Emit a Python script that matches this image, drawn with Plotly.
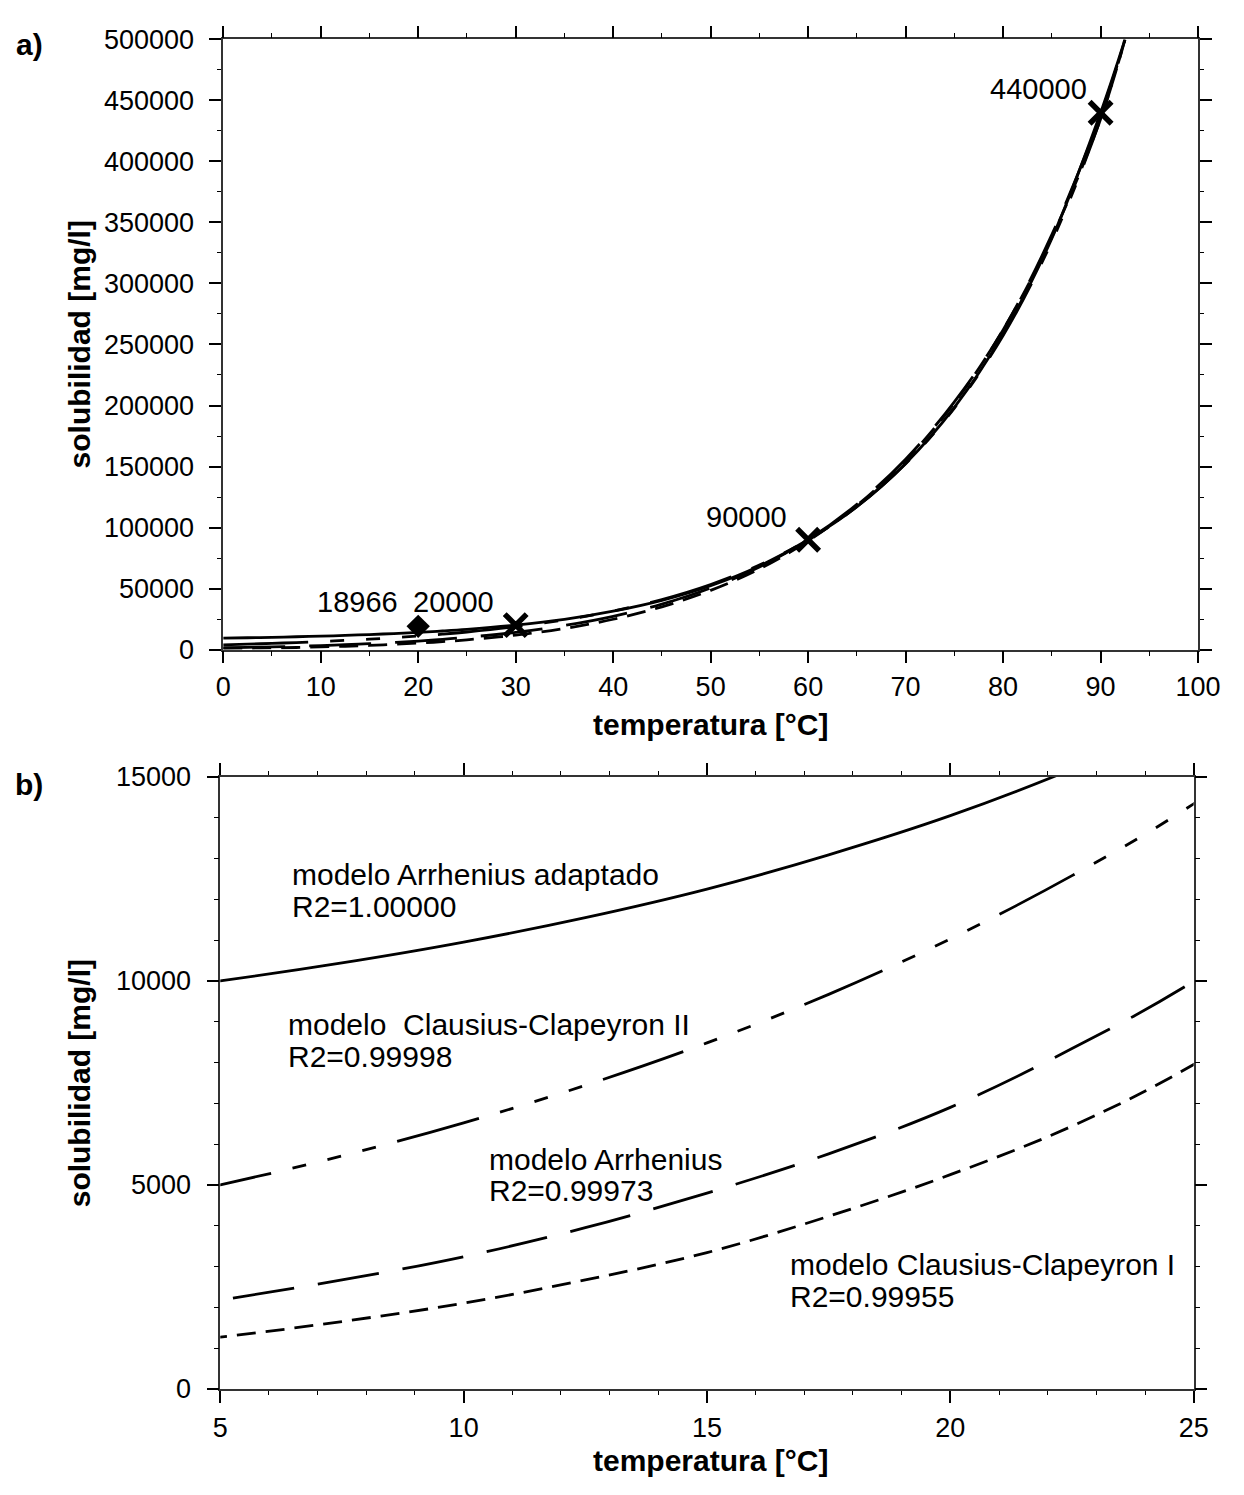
import plotly.graph_objects as go

# ---- data -------------------------------------------------------------
temperatura = [0, 2.5, 5, 7.5, 10, 12.5, 15, 17.5, 20, 22.5, 25, 30, 35, 40,
               45, 50, 55, 60, 65, 70, 75, 80, 85, 90, 92.5]

arrhenius_adaptado = [9310, 9630, 10000, 10440, 10950, 11550, 12250, 13090,
                      14050, 15190, 16520, 20000, 24700, 31400, 40300, 52300,
                      68500, 90000, 117000, 152500, 198500, 258500, 337000,
                      440000, 500000]
clausius_clapeyron_2 = [3850, 4390, 5000, 5710, 6520, 7440, 8480, 9670, 11030,
                        12580, 14340, 18660, 24260, 31530, 40990, 53290, 69280,
                        90060, 117100, 152200, 197900, 257300, 334500, 434800,
                        500000]
arrhenius = [1450, 1780, 2180, 2670, 3240, 3950, 4800, 5760, 6900, 8340, 9990,
             14100, 19700, 27200, 37200, 50400, 67600, 90000, 119000, 156000,
             203000, 262000, 340000, 438000, 500000]
clausius_clapeyron_1 = [750, 980, 1270, 1650, 2100, 2670, 3340, 4230, 5250,
                        6440, 7950, 11800, 17200, 24800, 35000, 48500, 66000,
                        89000, 118000, 155000, 202000, 262000, 338000, 435000,
                        500000]

medidos_t = [30, 60, 90]
medidos_s = [20000, 90000, 440000]
referencia_t = [20]
referencia_s = [18966]

modelos = [
    ("modelo Arrhenius adaptado", arrhenius_adaptado, "solid", "R2=1.00000"),
    ("modelo  Clausius-Clapeyron II", clausius_clapeyron_2,
     "85px,22px,14px,22px,14px,22px,14px,22px", "R2=0.99998"),
    ("modelo Arrhenius", arrhenius, "62px,24px", "R2=0.99973"),
    ("modelo Clausius-Clapeyron I", clausius_clapeyron_1, "19px,10px", "R2=0.99955"),
]

# ---- figure geometry (pixels of the page) ------------------------------
W, H = 1244, 1495
FONT = "Arial, 'Liberation Sans', sans-serif"


def fx(p):
    return p / W


def fy(p):
    return 1 - p / H


fig = go.Figure()

for nombre, valores, dash, _ in modelos:
    for xa, ya in (("x", "y"), ("x2", "y2")):
        fig.add_trace(go.Scatter(
            x=temperatura, y=valores, mode="lines", name=nombre,
            line=dict(color="black", width=2.8, dash=dash, shape="spline"),
            xaxis=xa, yaxis=ya, showlegend=False, hoverinfo="skip"))

fig.add_trace(go.Scatter(
    x=medidos_t, y=medidos_s, mode="markers", xaxis="x", yaxis="y",
    marker=dict(symbol="x-thin", size=22, color="black",
                line=dict(color="black", width=5.5)),
    showlegend=False))
fig.add_trace(go.Scatter(
    x=referencia_t, y=referencia_s, mode="markers", xaxis="x", yaxis="y",
    marker=dict(symbol="diamond", size=18, color="black"),
    showlegend=False))

axis_common = dict(
    showline=True, linecolor="#333", linewidth=1.5, mirror="ticks",
    ticks="outside", ticklen=12, tickwidth=1.5, tickcolor="black",
    showgrid=False, zeroline=False,
    tickfont=dict(family=FONT, size=27, color="black"),
)
minor_common = dict(ticks="outside", ticklen=4.5, tickwidth=1.2, tickcolor="black")

fig.update_layout(
    width=W, height=H, margin=dict(l=0, r=0, t=0, b=0),
    paper_bgcolor="white", plot_bgcolor="white", showlegend=False,
    xaxis=dict(axis_common, domain=[fx(220.7), fx(1220.5)], anchor="y",
               range=[0, 100], tick0=0, dtick=10,
               minor=dict(minor_common, dtick=5)),
    yaxis=dict(axis_common, domain=[fy(647.5), fy(25)], anchor="x",
               range=[0, 500000], tick0=0, dtick=50000, tickformat="d",
               ticklabelstandoff=10,
               minor=dict(minor_common, dtick=25000)),
    xaxis2=dict(axis_common, domain=[fx(217.7), fx(1216)], anchor="y2",
                range=[5, 25], tick0=5, dtick=5, ticklabelstandoff=2,
                minor=dict(minor_common, dtick=1)),
    yaxis2=dict(axis_common, domain=[fy(1402), fy(777.5)], anchor="x2",
                range=[0, 15000], tick0=0, dtick=5000, tickformat="d",
                ticklabelstandoff=10,
                minor=dict(minor_common, dtick=1000)),
)

anns = []

# values written next to the measured points
etiquetas = [(referencia_t[0], referencia_s[0], -6.2, 20000),
             (medidos_t[0], medidos_s[0], -6.4, 19000),
             (medidos_t[1], medidos_s[1], -6.3, 19000),
             (medidos_t[2], medidos_s[2], -6.4, 19800)]
for t, s, dx, dy in etiquetas:
    anns.append(dict(x=t + dx, y=s + dy, xref="x", yref="y", text=str(s),
                     showarrow=False, xanchor="center", yanchor="middle",
                     font=dict(family=FONT, size=29, color="black")))

# model names and fit quality in panel b
textos_b = [(289, 877, 910), (285, 1030, 1063), (491, 1168, 1200), (800, 1275, 1308)]
for (nombre, _, _, r2), (x0, y1, y2) in zip(modelos, textos_b):
    for txt, yy in ((nombre, y1), (r2, y2)):
        anns.append(dict(x=fx(x0), y=fy(yy), xref="paper", yref="paper",
                         text=txt.replace("  ", "&nbsp; "), showarrow=False,
                         xanchor="left", yanchor="middle",
                         font=dict(family=FONT, size=30, color="black")))

# axis titles and panel letters
for yc in (724, 1475):
    anns.append(dict(x=fx(720), y=fy(yc), xref="paper", yref="paper",
                     text="<b>temperatura [°C]</b>", showarrow=False,
                     xanchor="center", yanchor="middle",
                     font=dict(family=FONT, size=30, color="black")))
for yc in (336, 1090):
    anns.append(dict(x=fx(73), y=fy(yc), xref="paper", yref="paper",
                     text="<b>solubilidad [mg/l]</b>", showarrow=False,
                     textangle=-90, xanchor="center", yanchor="middle",
                     font=dict(family=FONT, size=30, color="black")))
for txt, xc, yc in (("a)", 22, 30), ("b)", 22, 785)):
    anns.append(dict(x=fx(xc), y=fy(yc), xref="paper", yref="paper",
                     text="<b>%s</b>" % txt, showarrow=False,
                     xanchor="center", yanchor="middle",
                     font=dict(family=FONT, size=30, color="black")))

fig.update_layout(annotations=anns)

# the figure fills the whole window: no page margin around it
fig.write_html(
    "out.html",
    post_script="document.body.style.margin='0';"
                "document.documentElement.style.margin='0';"
                "document.body.style.overflow='hidden';",
)
